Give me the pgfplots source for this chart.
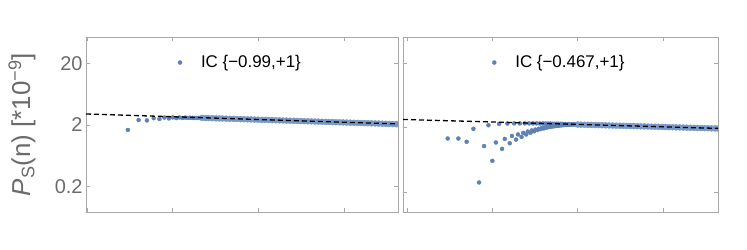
\documentclass[border=0pt]{standalone}
\usepackage{fontspec}
\setmainfont{Liberation Sans}
\usepackage{pgfplots}
\pgfplotsset{compat=1.18}
\definecolor{mblue}{rgb}{0.368417,0.506779,0.709798}
\definecolor{bandblue}{rgb}{0.47,0.60,0.78}
\definecolor{framegray}{gray}{0.66}
\definecolor{labgray}{gray}{0.42}
\begin{document}
\begin{tikzpicture}
\useasboundingbox (-86bp,-38bp) rectangle (661bp,212bp);
\begin{axis}[xmode=log, ymode=log, scale only axis, height=175bp, width=312bp,
  anchor=south west, at={(0bp,0bp)}, clip marker paths=true,
  axis line style={framegray, line width=0.9bp},
  tick style={framegray, line width=0.9bp},
  major tick length=4bp, minor tick length=0pt,
  tick align=inside, xtick pos=both, ytick pos=both,
  xtick={1,10,100,1000}, xticklabels={},
  ytick={0.2,2,20}, yticklabels={0.2,2,20},
  /pgf/number format/assume math mode=true,
  ticklabel style={font=\fontsize{20}{22}\selectfont, text=labgray},
  xmin=0.973, xmax=4256, ymin=0.077, ymax=53.9,
  ylabel={{\itshape P}\textsubscript{S}(n) [*10\textsuperscript{−9}]},
  ylabel style={font=\fontsize{26}{28}\selectfont, text=labgray, at={(axis description cs:-0.205,0.5)}, anchor=center},
  legend cell align=left,
  legend style={draw=none, fill=none, inner sep=0pt, outer sep=0pt,
      font=\fontsize{17}{20}\selectfont, anchor=west, at={(axis description cs:0.295,0.854)}},
  legend image code/.code={\path[draw=none,fill=none] (-2bp,0bp) -- (19bp,0bp); \draw[#1] plot coordinates {(0bp,0bp)};}]
\addplot[only marks, mark=*, mark size=2bp, color=mblue] coordinates {(3,1.66)(4,2.41)(5,2.37)(6,2.58)(7,2.50)(8,2.64)(9,2.56)(10,2.66)(11,2.59)(12,2.65)(13,2.60)(14,2.64)(15,2.61)(16,2.62)(17,2.61)(18,2.61)(19,2.60)(20,2.60)};
\addlegendentry{IC \{−0.99,+1\}}
\addplot[forget plot, only marks, mark=*, mark size=3bp, color=bandblue, mark options={draw=none, fill=bandblue}] coordinates {(22,2.611)(24,2.600)(26,2.591)(29,2.578)(32,2.567)(35,2.557)(38,2.547)(42,2.536)(46,2.525)(51,2.514)(56,2.503)(62,2.492)(68,2.481)(75,2.470)(82,2.461)(90,2.450)(99,2.440)(109,2.429)(120,2.419)(132,2.408)(145,2.398)(160,2.387)(176,2.378)(193,2.368)(212,2.358)(233,2.348)(257,2.337)(283,2.327)(311,2.317)(342,2.308)(376,2.298)(414,2.288)(455,2.278)(500,2.269)(550,2.259)(605,2.249)(666,2.240)(732,2.230)(805,2.221)(886,2.211)(975,2.202)(1072,2.192)(1179,2.183)(1297,2.174)(1427,2.164)(1570,2.155)(1727,2.146)(1900,2.137)(2090,2.128)(2299,2.118)(2529,2.110)(2782,2.099)(3060,2.091)(3366,2.082)(3703,2.073)(4073,2.064)(4250,2.060)};
\addplot[forget plot, black, line width=1.3bp, dash pattern=on 5bp off 3bp] coordinates {(0.973,3.02)(4256,2.08)};
\end{axis}
\begin{axis}[xmode=log, ymode=log, scale only axis, height=175bp, width=315bp,
  anchor=south west, at={(317bp,0bp)}, clip marker paths=true,
  axis line style={framegray, line width=0.9bp},
  tick style={framegray, line width=0.9bp},
  major tick length=4bp, minor tick length=0pt,
  tick align=inside, xtick pos=both, ytick pos=both,
  xtick={1,10,100,1000}, xticklabels={},
  ytick={0.2,2,20}, yticklabels={},
  xmin=0.898, xmax=4413, ymin=0.0993, ymax=50.5,
  legend cell align=left,
  legend style={draw=none, fill=none, inner sep=0pt, outer sep=0pt,
      font=\fontsize{17}{20}\selectfont, anchor=west, at={(axis description cs:0.2835,0.854)}},
  legend image code/.code={\path[draw=none,fill=none] (-2bp,0bp) -- (19bp,0bp); \draw[#1] plot coordinates {(0bp,0bp)};}]
\addplot[only marks, mark=*, mark size=2bp, color=mblue] coordinates {(3,1.36)(4,1.36)(5,1.21)(6,1.92)(7,0.284)(8,1.04)(9,2.18)(10,0.614)(11,1.18)(12,2.29)(13,0.94)(14,1.34)(15,2.32)(16,1.15)(17,1.49)(18,2.33)(19,1.31)(20,1.57)(21,2.33)(22,1.44)(23,1.66)(24,2.33)(25,1.57)(26,1.74)(27,2.33)(28,1.67)(29,1.81)(30,2.33)(31,1.76)(32,1.87)(33,2.33)(34,1.84)(35,1.92)(36,2.32)(37,1.90)(38,1.97)(39,2.32)(40,1.95)(41,2.01)(42,2.32)(43,2.00)(44,2.04)(45,2.31)(46,2.04)(47,2.07)(48,2.31)(49,2.07)(50,2.10)(51,2.30)(52,2.10)(53,2.12)(54,2.30)(55,2.12)(56,2.14)(57,2.30)(58,2.14)(59,2.16)(60,2.29)(61,2.16)(62,2.18)(63,2.29)(64,2.18)(65,2.19)(66,2.29)(67,2.19)(68,2.20)(69,2.28)(70,2.20)(71,2.21)(72,2.28)(76,2.22)(77,2.22)(78,2.28)(82,2.23)(83,2.23)(84,2.27)(88,2.24)(89,2.24)(90,2.27)(94,2.24)(95,2.25)(96,2.26)};
\addlegendentry{IC \{−0.467,+1\}}
\addplot[forget plot, only marks, mark=*, mark size=3bp, color=bandblue, mark options={draw=none, fill=bandblue}] coordinates {(100,2.236)(109,2.229)(120,2.220)(132,2.213)(145,2.205)(160,2.197)(176,2.189)(193,2.181)(212,2.174)(233,2.166)(257,2.158)(283,2.150)(311,2.143)(342,2.135)(376,2.127)(414,2.120)(455,2.112)(500,2.105)(550,2.097)(605,2.090)(666,2.083)(732,2.075)(805,2.068)(886,2.061)(975,2.053)(1072,2.046)(1179,2.038)(1297,2.031)(1427,2.024)(1570,2.017)(1727,2.009)(1900,2.002)(2090,1.995)(2299,1.988)(2529,1.981)(2782,1.974)(3060,1.966)(3366,1.960)(3703,1.952)(4073,1.946)(4400,1.940)};
\addplot[forget plot, black, line width=1.3bp, dash pattern=on 5bp off 3bp] coordinates {(0.898,2.68)(4413,1.95)};
\end{axis}
\end{tikzpicture}
\end{document}
